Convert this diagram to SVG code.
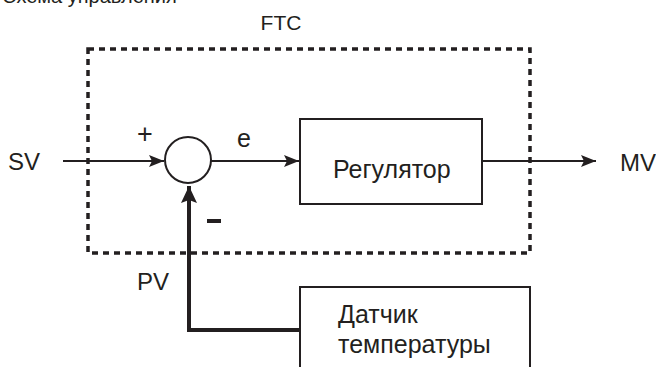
<svg xmlns="http://www.w3.org/2000/svg" width="656" height="367" viewBox="0 0 656 367">
<defs>
<style>
text{font-family:"Liberation Sans",Arial,sans-serif;fill:#231f20}
.lbl{font-size:24px}
.box{fill:#fff;stroke:#231f20;stroke-width:2}
.ln{fill:none;stroke:#231f20;stroke-width:2}
.fb{fill:none;stroke:#231f20;stroke-width:4}
.dash{fill:none;stroke:#231f20;stroke-width:3.5;stroke-dasharray:6 5}
</style>
<marker id="ah" markerUnits="userSpaceOnUse" markerWidth="16" markerHeight="12" refX="15" refY="6" orient="auto">
<path d="M0,0 L15,6 L0,12 L3,6 z" fill="#231f20"/>
</marker>
<marker id="ahb" markerUnits="userSpaceOnUse" markerWidth="18" markerHeight="16" refX="17" refY="8" orient="auto">
<path d="M0,0 L17,8 L0,16 L3,8 z" fill="#231f20"/>
</marker>
</defs>
<rect width="656" height="367" fill="#fff"/>
<text x="2" y="3" style="font-size:20px">Схема управления</text>
<g id="ftc">
<rect class="dash" x="88" y="49" width="442" height="204"/>
<text x="281" y="30" style="font-size:21px" text-anchor="middle">FTC</text>
</g>
<g id="connectors">
<line class="ln" x1="63" y1="161" x2="164" y2="161" marker-end="url(#ah)"/>
<line class="ln" x1="211" y1="161" x2="299" y2="161" marker-end="url(#ah)"/>
<line class="ln" x1="482" y1="161" x2="596" y2="161" marker-end="url(#ah)"/>
<polyline class="fb" points="300,330 189,330 189,186" marker-end="url(#ahb)"/>
</g>
<g id="sum">
<circle cx="188" cy="160" r="23" fill="#fff" stroke="#231f20" stroke-width="2"/>
<text x="145" y="143" style="font-size:27px" text-anchor="middle">+</text>
<rect x="207" y="219" width="14" height="4" fill="#231f20"/>
</g>
<g id="regulator">
<rect class="box" x="300" y="119" width="182" height="85"/>
<text x="333" y="178" style="font-size:25px">Регулятор</text>
</g>
<g id="sensor">
<rect class="box" x="300" y="287" width="230" height="100"/>
<text x="338" y="323" style="font-size:25px">Датчик</text>
<text x="338" y="353" style="font-size:25px">температуры</text>
</g>
<text x="8" y="170" class="lbl">SV</text>
<text x="620" y="171" class="lbl">MV</text>
<text x="137" y="290" class="lbl">PV</text>
<text x="237" y="147" style="font-size:25px">e</text>
</svg>
